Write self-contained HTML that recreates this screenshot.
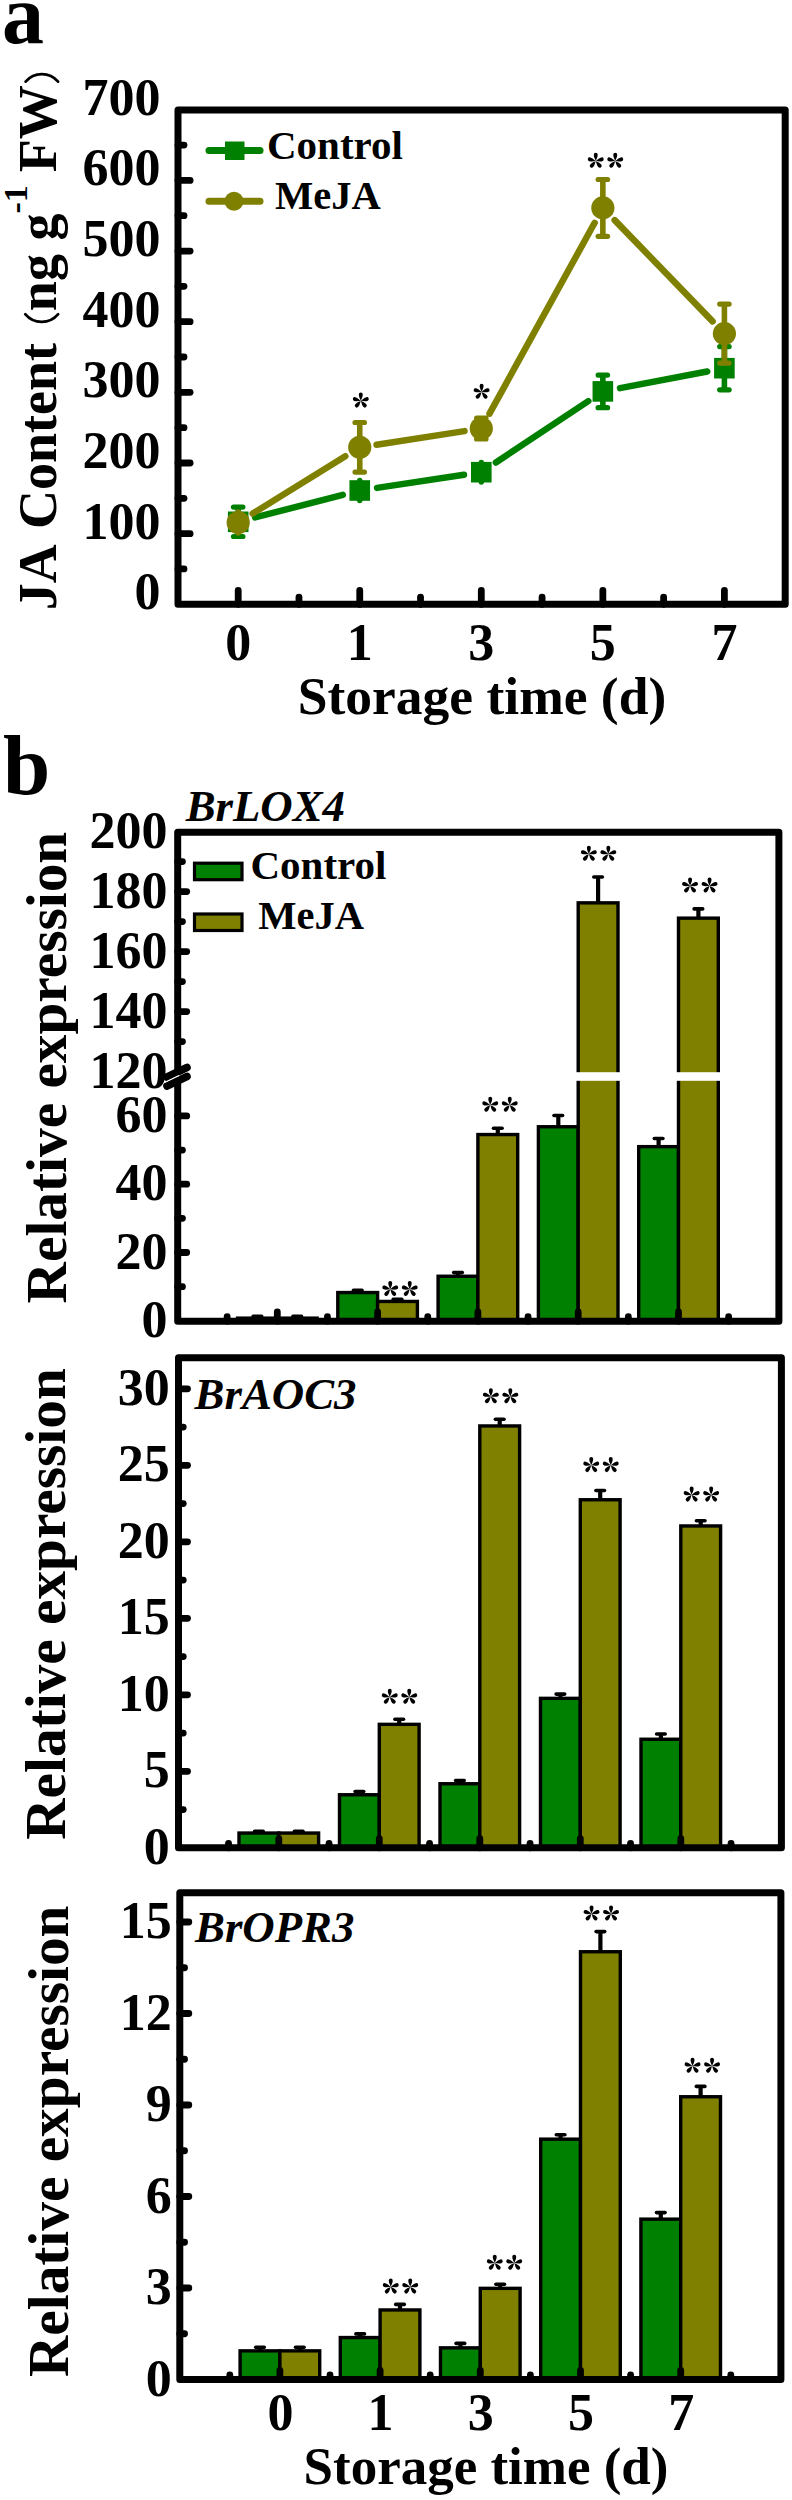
<!DOCTYPE html>
<html><head><meta charset="utf-8"><style>
html,body{margin:0;padding:0;background:#fff;}
svg{display:block;}
text{font-family:"Liberation Serif",serif;fill:#000;}
</style></head><body>
<svg width="792" height="2500" viewBox="0 0 792 2500">
<defs><g id="st0">
<path id="pt" d="M0 0C-0.5 -1.8 -2.05 -3.6 -2.05 -6.5A2.05 2.05 0 0 1 2.05 -6.5C2.05 -3.6 0.5 -1.8 0 0Z"/>
<use href="#pt" transform="rotate(74)"/><use href="#pt" transform="rotate(-74)"/>
<use href="#pt" transform="rotate(140)"/><use href="#pt" transform="rotate(-140)"/>
</g><g id="st"><use href="#st0" transform="translate(0,0.6) scale(0.96)"/></g></defs>
<rect width="792" height="2500" fill="#fff"/>
<text x="2.00" y="43.00" font-size="84" text-anchor="start" font-weight="bold" font-style="normal" >a</text>
<text x="160.50" y="609.30" font-size="52" text-anchor="end" font-weight="bold" font-style="normal" >0</text>
<line x1="178.00" y1="568.97" x2="184.00" y2="568.97" stroke="#000" stroke-width="6.8" stroke-linecap="round"/>
<line x1="178.00" y1="533.65" x2="190.10" y2="533.65" stroke="#000" stroke-width="6.8" stroke-linecap="round"/>
<text x="160.50" y="538.65" font-size="52" text-anchor="end" font-weight="bold" font-style="normal" >100</text>
<line x1="178.00" y1="498.32" x2="184.00" y2="498.32" stroke="#000" stroke-width="6.8" stroke-linecap="round"/>
<line x1="178.00" y1="463.00" x2="190.10" y2="463.00" stroke="#000" stroke-width="6.8" stroke-linecap="round"/>
<text x="160.50" y="468.00" font-size="52" text-anchor="end" font-weight="bold" font-style="normal" >200</text>
<line x1="178.00" y1="427.67" x2="184.00" y2="427.67" stroke="#000" stroke-width="6.8" stroke-linecap="round"/>
<line x1="178.00" y1="392.35" x2="190.10" y2="392.35" stroke="#000" stroke-width="6.8" stroke-linecap="round"/>
<text x="160.50" y="397.35" font-size="52" text-anchor="end" font-weight="bold" font-style="normal" >300</text>
<line x1="178.00" y1="357.02" x2="184.00" y2="357.02" stroke="#000" stroke-width="6.8" stroke-linecap="round"/>
<line x1="178.00" y1="321.70" x2="190.10" y2="321.70" stroke="#000" stroke-width="6.8" stroke-linecap="round"/>
<text x="160.50" y="326.70" font-size="52" text-anchor="end" font-weight="bold" font-style="normal" >400</text>
<line x1="178.00" y1="286.37" x2="184.00" y2="286.37" stroke="#000" stroke-width="6.8" stroke-linecap="round"/>
<line x1="178.00" y1="251.05" x2="190.10" y2="251.05" stroke="#000" stroke-width="6.8" stroke-linecap="round"/>
<text x="160.50" y="256.05" font-size="52" text-anchor="end" font-weight="bold" font-style="normal" >500</text>
<line x1="178.00" y1="215.72" x2="184.00" y2="215.72" stroke="#000" stroke-width="6.8" stroke-linecap="round"/>
<line x1="178.00" y1="180.40" x2="190.10" y2="180.40" stroke="#000" stroke-width="6.8" stroke-linecap="round"/>
<text x="160.50" y="185.40" font-size="52" text-anchor="end" font-weight="bold" font-style="normal" >600</text>
<line x1="178.00" y1="145.07" x2="184.00" y2="145.07" stroke="#000" stroke-width="6.8" stroke-linecap="round"/>
<text x="160.50" y="114.75" font-size="52" text-anchor="end" font-weight="bold" font-style="normal" >700</text>
<line x1="238.20" y1="604.30" x2="238.20" y2="590.50" stroke="#000" stroke-width="6.8" stroke-linecap="round"/>
<line x1="359.75" y1="604.30" x2="359.75" y2="590.50" stroke="#000" stroke-width="6.8" stroke-linecap="round"/>
<line x1="481.30" y1="604.30" x2="481.30" y2="590.50" stroke="#000" stroke-width="6.8" stroke-linecap="round"/>
<line x1="602.85" y1="604.30" x2="602.85" y2="590.50" stroke="#000" stroke-width="6.8" stroke-linecap="round"/>
<line x1="724.40" y1="604.30" x2="724.40" y2="590.50" stroke="#000" stroke-width="6.8" stroke-linecap="round"/>
<line x1="298.97" y1="604.30" x2="298.97" y2="597.20" stroke="#000" stroke-width="6.8" stroke-linecap="round"/>
<line x1="420.52" y1="604.30" x2="420.52" y2="597.20" stroke="#000" stroke-width="6.8" stroke-linecap="round"/>
<line x1="542.08" y1="604.30" x2="542.08" y2="597.20" stroke="#000" stroke-width="6.8" stroke-linecap="round"/>
<line x1="663.62" y1="604.30" x2="663.62" y2="597.20" stroke="#000" stroke-width="6.8" stroke-linecap="round"/>
<rect x="178" y="110" width="607.2" height="494.29999999999995" fill="none" stroke="#000" stroke-width="7" stroke-linejoin="round"/>
<text x="238.20" y="659.50" font-size="52" text-anchor="middle" font-weight="bold" font-style="normal" >0</text>
<text x="359.75" y="659.50" font-size="52" text-anchor="middle" font-weight="bold" font-style="normal" >1</text>
<text x="481.30" y="659.50" font-size="52" text-anchor="middle" font-weight="bold" font-style="normal" >3</text>
<text x="602.85" y="659.50" font-size="52" text-anchor="middle" font-weight="bold" font-style="normal" >5</text>
<text x="724.40" y="659.50" font-size="52" text-anchor="middle" font-weight="bold" font-style="normal" >7</text>
<text x="482.00" y="713.50" font-size="53.5" text-anchor="middle" font-weight="bold" font-style="normal" >Storage time (d)</text>
<g transform="translate(55.5,0) rotate(-90)" font-size="54" font-weight="bold"><text x="-610.2" y="0">JA</text><text x="-529" y="0">Content</text><text x="-311.15" y="0">ng g</text><text x="-213.55" y="-28.7" font-size="34">-1</text><text x="-172.3" y="0">FW</text></g>
<path d="M25.2 314.2A21.5 21.5 0 0 0 58.2 314.2" fill="none" stroke="#000" stroke-width="2.7" stroke-linecap="round"/>
<path d="M25.6 81.6A21.4 21.4 0 0 1 58.1 81.6" fill="none" stroke="#000" stroke-width="2.7" stroke-linecap="round"/>
<line x1="255.15" y1="517.44" x2="342.80" y2="494.86" stroke="#008000" stroke-width="6.5" stroke-linecap="round"/>
<line x1="377.05" y1="487.89" x2="464.00" y2="474.81" stroke="#008000" stroke-width="6.5" stroke-linecap="round"/>
<line x1="495.87" y1="462.51" x2="588.28" y2="401.09" stroke="#008000" stroke-width="6.5" stroke-linecap="round"/>
<line x1="620.04" y1="388.12" x2="707.21" y2="371.48" stroke="#008000" stroke-width="6.5" stroke-linecap="round"/>
<line x1="238.20" y1="507.10" x2="238.20" y2="536.50" stroke="#008000" stroke-width="5.6" stroke-linecap="butt"/>
<line x1="233.50" y1="507.10" x2="242.90" y2="507.10" stroke="#008000" stroke-width="5.2" stroke-linecap="round"/>
<line x1="233.50" y1="536.50" x2="242.90" y2="536.50" stroke="#008000" stroke-width="5.2" stroke-linecap="round"/>
<rect x="227.90" y="511.50" width="20.6" height="20.6" fill="#008000"/>
<line x1="359.75" y1="480.50" x2="359.75" y2="500.50" stroke="#008000" stroke-width="5.4" stroke-linecap="round"/>
<rect x="349.45" y="480.20" width="20.6" height="20.6" fill="#008000"/>
<line x1="481.30" y1="462.40" x2="481.30" y2="482.00" stroke="#008000" stroke-width="5.4" stroke-linecap="round"/>
<rect x="471.00" y="461.90" width="20.6" height="20.6" fill="#008000"/>
<line x1="602.85" y1="375.10" x2="602.85" y2="407.70" stroke="#008000" stroke-width="5.6" stroke-linecap="butt"/>
<line x1="598.15" y1="375.10" x2="607.55" y2="375.10" stroke="#008000" stroke-width="5.2" stroke-linecap="round"/>
<line x1="598.15" y1="407.70" x2="607.55" y2="407.70" stroke="#008000" stroke-width="5.2" stroke-linecap="round"/>
<rect x="592.55" y="381.10" width="20.6" height="20.6" fill="#008000"/>
<line x1="724.40" y1="346.60" x2="724.40" y2="389.80" stroke="#008000" stroke-width="5.6" stroke-linecap="butt"/>
<line x1="719.70" y1="346.60" x2="729.10" y2="346.60" stroke="#008000" stroke-width="5.2" stroke-linecap="round"/>
<line x1="719.70" y1="389.80" x2="729.10" y2="389.80" stroke="#008000" stroke-width="5.2" stroke-linecap="round"/>
<rect x="714.10" y="357.90" width="20.6" height="20.6" fill="#008000"/>
<line x1="252.66" y1="513.56" x2="345.29" y2="456.24" stroke="#808000" stroke-width="6.5" stroke-linecap="round"/>
<line x1="376.55" y1="444.70" x2="464.50" y2="431.10" stroke="#808000" stroke-width="6.5" stroke-linecap="round"/>
<line x1="489.50" y1="413.61" x2="594.65" y2="222.79" stroke="#808000" stroke-width="6.5" stroke-linecap="round"/>
<line x1="614.67" y1="220.12" x2="712.58" y2="321.38" stroke="#808000" stroke-width="6.5" stroke-linecap="round"/>
<line x1="238.20" y1="512.00" x2="238.20" y2="533.00" stroke="#808000" stroke-width="5.4" stroke-linecap="round"/>
<circle cx="238.20" cy="522.50" r="11.6" fill="#808000"/>
<line x1="359.75" y1="422.50" x2="359.75" y2="472.10" stroke="#808000" stroke-width="5.6" stroke-linecap="butt"/>
<line x1="355.05" y1="422.50" x2="364.45" y2="422.50" stroke="#808000" stroke-width="5.2" stroke-linecap="round"/>
<line x1="355.05" y1="472.10" x2="364.45" y2="472.10" stroke="#808000" stroke-width="5.2" stroke-linecap="round"/>
<circle cx="359.75" cy="447.30" r="11.6" fill="#808000"/>
<line x1="481.30" y1="418.00" x2="481.30" y2="439.00" stroke="#808000" stroke-width="5.6" stroke-linecap="butt"/>
<line x1="476.60" y1="418.00" x2="486.00" y2="418.00" stroke="#808000" stroke-width="5.2" stroke-linecap="round"/>
<line x1="476.60" y1="439.00" x2="486.00" y2="439.00" stroke="#808000" stroke-width="5.2" stroke-linecap="round"/>
<circle cx="481.30" cy="428.50" r="11.6" fill="#808000"/>
<line x1="602.85" y1="179.50" x2="602.85" y2="236.30" stroke="#808000" stroke-width="5.6" stroke-linecap="butt"/>
<line x1="598.15" y1="179.50" x2="607.55" y2="179.50" stroke="#808000" stroke-width="5.2" stroke-linecap="round"/>
<line x1="598.15" y1="236.30" x2="607.55" y2="236.30" stroke="#808000" stroke-width="5.2" stroke-linecap="round"/>
<circle cx="602.85" cy="207.90" r="11.6" fill="#808000"/>
<line x1="724.40" y1="304.10" x2="724.40" y2="363.10" stroke="#808000" stroke-width="5.6" stroke-linecap="butt"/>
<line x1="719.70" y1="304.10" x2="729.10" y2="304.10" stroke="#808000" stroke-width="5.2" stroke-linecap="round"/>
<line x1="719.70" y1="363.10" x2="729.10" y2="363.10" stroke="#808000" stroke-width="5.2" stroke-linecap="round"/>
<circle cx="724.40" cy="333.60" r="11.6" fill="#808000"/>
<use href="#st" x="360.80" y="400.20"/>
<use href="#st" x="481.60" y="391.30"/>
<use href="#st" x="595.75" y="160.40"/>
<use href="#st" x="615.25" y="160.40"/>
<line x1="209.00" y1="150.50" x2="260.00" y2="150.50" stroke="#008000" stroke-width="7" stroke-linecap="round"/>
<rect x="225" y="141.5" width="19.5" height="18.5" fill="#008000"/>
<line x1="209.00" y1="201.30" x2="260.00" y2="201.30" stroke="#808000" stroke-width="7" stroke-linecap="round"/>
<circle cx="234" cy="201.3" r="9.5" fill="#808000"/>
<text x="267.00" y="158.60" font-size="41" text-anchor="start" font-weight="bold" font-style="normal" >Control</text>
<text x="275.00" y="209.40" font-size="40.5" text-anchor="start" font-weight="bold" font-style="normal" >MeJA</text>
<text x="3.00" y="794.00" font-size="85" text-anchor="start" font-weight="bold" font-style="normal" >b</text>
<line x1="177.70" y1="1286.65" x2="182.45" y2="1286.65" stroke="#000" stroke-width="6.8" stroke-linecap="round"/>
<line x1="177.70" y1="1218.35" x2="182.45" y2="1218.35" stroke="#000" stroke-width="6.8" stroke-linecap="round"/>
<line x1="177.70" y1="1150.05" x2="182.45" y2="1150.05" stroke="#000" stroke-width="6.8" stroke-linecap="round"/>
<line x1="177.70" y1="1041.60" x2="182.45" y2="1041.60" stroke="#000" stroke-width="6.8" stroke-linecap="round"/>
<line x1="177.70" y1="981.60" x2="182.45" y2="981.60" stroke="#000" stroke-width="6.8" stroke-linecap="round"/>
<line x1="177.70" y1="921.60" x2="182.45" y2="921.60" stroke="#000" stroke-width="6.8" stroke-linecap="round"/>
<line x1="177.70" y1="861.60" x2="182.45" y2="861.60" stroke="#000" stroke-width="6.8" stroke-linecap="round"/>
<line x1="177.70" y1="1252.50" x2="186.70" y2="1252.50" stroke="#000" stroke-width="6.8" stroke-linecap="round"/>
<line x1="177.70" y1="1184.20" x2="186.70" y2="1184.20" stroke="#000" stroke-width="6.8" stroke-linecap="round"/>
<line x1="177.70" y1="1115.90" x2="186.70" y2="1115.90" stroke="#000" stroke-width="6.8" stroke-linecap="round"/>
<line x1="177.70" y1="1011.60" x2="186.70" y2="1011.60" stroke="#000" stroke-width="6.8" stroke-linecap="round"/>
<line x1="177.70" y1="951.60" x2="186.70" y2="951.60" stroke="#000" stroke-width="6.8" stroke-linecap="round"/>
<line x1="177.70" y1="891.60" x2="186.70" y2="891.60" stroke="#000" stroke-width="6.8" stroke-linecap="round"/>
<text x="167.60" y="1336.90" font-size="52" text-anchor="end" font-weight="bold" font-style="normal" >0</text>
<text x="167.60" y="1268.60" font-size="52" text-anchor="end" font-weight="bold" font-style="normal" >20</text>
<text x="167.60" y="1200.30" font-size="52" text-anchor="end" font-weight="bold" font-style="normal" >40</text>
<text x="167.60" y="1132.00" font-size="52" text-anchor="end" font-weight="bold" font-style="normal" >60</text>
<text x="167.60" y="1087.70" font-size="52" text-anchor="end" font-weight="bold" font-style="normal" >120</text>
<text x="167.60" y="1027.70" font-size="52" text-anchor="end" font-weight="bold" font-style="normal" >140</text>
<text x="167.60" y="967.70" font-size="52" text-anchor="end" font-weight="bold" font-style="normal" >160</text>
<text x="167.60" y="907.70" font-size="52" text-anchor="end" font-weight="bold" font-style="normal" >180</text>
<text x="167.60" y="847.70" font-size="52" text-anchor="end" font-weight="bold" font-style="normal" >200</text>
<line x1="253.10" y1="1316.40" x2="261.70" y2="1316.40" stroke="#000" stroke-width="3.6" stroke-linecap="round"/>
<rect x="237.50" y="1318.15" width="39.8" height="3.05" fill="#008000" stroke="#000" stroke-width="3.4"/>
<line x1="292.90" y1="1316.40" x2="301.50" y2="1316.40" stroke="#000" stroke-width="3.6" stroke-linecap="round"/>
<rect x="277.30" y="1318.15" width="39.8" height="3.05" fill="#808000" stroke="#000" stroke-width="3.4"/>
<line x1="353.40" y1="1290.40" x2="362.00" y2="1290.40" stroke="#000" stroke-width="3.6" stroke-linecap="round"/>
<rect x="337.80" y="1292.55" width="39.8" height="28.65" fill="#008000" stroke="#000" stroke-width="3.4"/>
<line x1="393.20" y1="1299.30" x2="401.80" y2="1299.30" stroke="#000" stroke-width="3.6" stroke-linecap="round"/>
<rect x="377.60" y="1301.45" width="39.8" height="19.75" fill="#808000" stroke="#000" stroke-width="3.4"/>
<line x1="458.00" y1="1276.25" x2="458.00" y2="1272.60" stroke="#000" stroke-width="4.2" stroke-linecap="butt"/>
<line x1="453.70" y1="1272.60" x2="462.30" y2="1272.60" stroke="#000" stroke-width="3.6" stroke-linecap="round"/>
<rect x="438.10" y="1276.25" width="39.8" height="44.95" fill="#008000" stroke="#000" stroke-width="3.4"/>
<line x1="497.80" y1="1134.55" x2="497.80" y2="1128.30" stroke="#000" stroke-width="4.2" stroke-linecap="butt"/>
<line x1="493.50" y1="1128.30" x2="502.10" y2="1128.30" stroke="#000" stroke-width="3.6" stroke-linecap="round"/>
<rect x="477.90" y="1134.55" width="39.8" height="186.65" fill="#808000" stroke="#000" stroke-width="3.4"/>
<line x1="558.30" y1="1126.75" x2="558.30" y2="1115.50" stroke="#000" stroke-width="4.2" stroke-linecap="butt"/>
<line x1="554.00" y1="1115.50" x2="562.60" y2="1115.50" stroke="#000" stroke-width="3.6" stroke-linecap="round"/>
<rect x="538.40" y="1126.75" width="39.8" height="194.45" fill="#008000" stroke="#000" stroke-width="3.4"/>
<line x1="598.10" y1="902.85" x2="598.10" y2="877.00" stroke="#000" stroke-width="4.2" stroke-linecap="butt"/>
<line x1="593.80" y1="877.00" x2="602.40" y2="877.00" stroke="#000" stroke-width="3.6" stroke-linecap="round"/>
<rect x="578.20" y="902.85" width="39.8" height="418.35" fill="#808000" stroke="#000" stroke-width="3.4"/>
<line x1="658.60" y1="1146.65" x2="658.60" y2="1138.50" stroke="#000" stroke-width="4.2" stroke-linecap="butt"/>
<line x1="654.30" y1="1138.50" x2="662.90" y2="1138.50" stroke="#000" stroke-width="3.6" stroke-linecap="round"/>
<rect x="638.70" y="1146.65" width="39.8" height="174.55" fill="#008000" stroke="#000" stroke-width="3.4"/>
<line x1="698.40" y1="918.15" x2="698.40" y2="908.90" stroke="#000" stroke-width="4.2" stroke-linecap="butt"/>
<line x1="694.10" y1="908.90" x2="702.70" y2="908.90" stroke="#000" stroke-width="3.6" stroke-linecap="round"/>
<rect x="678.50" y="918.15" width="39.8" height="403.05" fill="#808000" stroke="#000" stroke-width="3.4"/>
<rect x="560" y="1072.2" width="170" height="8.6" fill="#fff"/>
<line x1="277.30" y1="1321.20" x2="277.30" y2="1312.00" stroke="#000" stroke-width="6.8" stroke-linecap="round"/>
<line x1="377.60" y1="1321.20" x2="377.60" y2="1312.00" stroke="#000" stroke-width="6.8" stroke-linecap="round"/>
<line x1="477.90" y1="1321.20" x2="477.90" y2="1312.00" stroke="#000" stroke-width="6.8" stroke-linecap="round"/>
<line x1="578.20" y1="1321.20" x2="578.20" y2="1312.00" stroke="#000" stroke-width="6.8" stroke-linecap="round"/>
<line x1="678.50" y1="1321.20" x2="678.50" y2="1312.00" stroke="#000" stroke-width="6.8" stroke-linecap="round"/>
<line x1="227.15" y1="1321.20" x2="227.15" y2="1316.70" stroke="#000" stroke-width="6.8" stroke-linecap="round"/>
<line x1="327.45" y1="1321.20" x2="327.45" y2="1316.70" stroke="#000" stroke-width="6.8" stroke-linecap="round"/>
<line x1="427.75" y1="1321.20" x2="427.75" y2="1316.70" stroke="#000" stroke-width="6.8" stroke-linecap="round"/>
<line x1="528.05" y1="1321.20" x2="528.05" y2="1316.70" stroke="#000" stroke-width="6.8" stroke-linecap="round"/>
<line x1="628.35" y1="1321.20" x2="628.35" y2="1316.70" stroke="#000" stroke-width="6.8" stroke-linecap="round"/>
<line x1="728.65" y1="1321.20" x2="728.65" y2="1316.70" stroke="#000" stroke-width="6.8" stroke-linecap="round"/>
<rect x="177.7" y="832.2" width="601.20" height="489.00" fill="none" stroke="#000" stroke-width="7" stroke-linejoin="round"/>
<text x="185.70" y="820.50" font-size="44.8" text-anchor="start" font-weight="bold" font-style="italic" >BrLOX4</text>
<use href="#st" x="390.25" y="1288.60"/>
<use href="#st" x="409.75" y="1288.60"/>
<use href="#st" x="490.25" y="1104.40"/>
<use href="#st" x="509.75" y="1104.40"/>
<use href="#st" x="588.85" y="853.30"/>
<use href="#st" x="608.35" y="853.30"/>
<use href="#st" x="690.05" y="885.10"/>
<use href="#st" x="709.55" y="885.10"/>
<rect x="173" y="1072.6" width="9.5" height="8.2" fill="#fff"/>
<line x1="167.00" y1="1077.00" x2="187.00" y2="1067.50" stroke="#000" stroke-width="7.6" stroke-linecap="round"/>
<line x1="167.00" y1="1086.00" x2="187.00" y2="1076.50" stroke="#000" stroke-width="7.6" stroke-linecap="round"/>
<line x1="165.00" y1="1082.20" x2="179.00" y2="1075.60" stroke="#fff" stroke-width="1.1" stroke-linecap="butt"/>
<rect x="194.5" y="863.2" width="47.5" height="16.5" fill="#008000" stroke="#000" stroke-width="3.2"/>
<rect x="194.5" y="914" width="47.5" height="16.5" fill="#808000" stroke="#000" stroke-width="3.2"/>
<text x="250.50" y="878.80" font-size="41" text-anchor="start" font-weight="bold" font-style="normal" >Control</text>
<text x="258.30" y="928.90" font-size="40.5" text-anchor="start" font-weight="bold" font-style="normal" >MeJA</text>
<line x1="178.50" y1="1809.55" x2="183.25" y2="1809.55" stroke="#000" stroke-width="6.8" stroke-linecap="round"/>
<line x1="178.50" y1="1733.05" x2="183.25" y2="1733.05" stroke="#000" stroke-width="6.8" stroke-linecap="round"/>
<line x1="178.50" y1="1656.55" x2="183.25" y2="1656.55" stroke="#000" stroke-width="6.8" stroke-linecap="round"/>
<line x1="178.50" y1="1580.05" x2="183.25" y2="1580.05" stroke="#000" stroke-width="6.8" stroke-linecap="round"/>
<line x1="178.50" y1="1503.55" x2="183.25" y2="1503.55" stroke="#000" stroke-width="6.8" stroke-linecap="round"/>
<line x1="178.50" y1="1427.05" x2="183.25" y2="1427.05" stroke="#000" stroke-width="6.8" stroke-linecap="round"/>
<line x1="178.50" y1="1771.30" x2="187.50" y2="1771.30" stroke="#000" stroke-width="6.8" stroke-linecap="round"/>
<line x1="178.50" y1="1694.80" x2="187.50" y2="1694.80" stroke="#000" stroke-width="6.8" stroke-linecap="round"/>
<line x1="178.50" y1="1618.30" x2="187.50" y2="1618.30" stroke="#000" stroke-width="6.8" stroke-linecap="round"/>
<line x1="178.50" y1="1541.80" x2="187.50" y2="1541.80" stroke="#000" stroke-width="6.8" stroke-linecap="round"/>
<line x1="178.50" y1="1465.30" x2="187.50" y2="1465.30" stroke="#000" stroke-width="6.8" stroke-linecap="round"/>
<line x1="178.50" y1="1388.80" x2="187.50" y2="1388.80" stroke="#000" stroke-width="6.8" stroke-linecap="round"/>
<text x="169.80" y="1863.90" font-size="52" text-anchor="end" font-weight="bold" font-style="normal" >0</text>
<text x="169.80" y="1787.40" font-size="52" text-anchor="end" font-weight="bold" font-style="normal" >5</text>
<text x="169.80" y="1710.90" font-size="52" text-anchor="end" font-weight="bold" font-style="normal" >10</text>
<text x="169.80" y="1634.40" font-size="52" text-anchor="end" font-weight="bold" font-style="normal" >15</text>
<text x="169.80" y="1557.90" font-size="52" text-anchor="end" font-weight="bold" font-style="normal" >20</text>
<text x="169.80" y="1481.40" font-size="52" text-anchor="end" font-weight="bold" font-style="normal" >25</text>
<text x="169.80" y="1404.90" font-size="52" text-anchor="end" font-weight="bold" font-style="normal" >30</text>
<line x1="254.60" y1="1831.20" x2="263.20" y2="1831.20" stroke="#000" stroke-width="3.6" stroke-linecap="round"/>
<rect x="239.00" y="1833.05" width="39.8" height="14.75" fill="#008000" stroke="#000" stroke-width="3.4"/>
<line x1="294.40" y1="1831.20" x2="303.00" y2="1831.20" stroke="#000" stroke-width="3.6" stroke-linecap="round"/>
<rect x="278.80" y="1833.05" width="39.8" height="14.75" fill="#808000" stroke="#000" stroke-width="3.4"/>
<line x1="359.40" y1="1794.75" x2="359.40" y2="1791.50" stroke="#000" stroke-width="4.2" stroke-linecap="butt"/>
<line x1="355.10" y1="1791.50" x2="363.70" y2="1791.50" stroke="#000" stroke-width="3.6" stroke-linecap="round"/>
<rect x="339.50" y="1794.75" width="39.8" height="53.05" fill="#008000" stroke="#000" stroke-width="3.4"/>
<line x1="399.20" y1="1724.35" x2="399.20" y2="1719.20" stroke="#000" stroke-width="4.2" stroke-linecap="butt"/>
<line x1="394.90" y1="1719.20" x2="403.50" y2="1719.20" stroke="#000" stroke-width="3.6" stroke-linecap="round"/>
<rect x="379.30" y="1724.35" width="39.8" height="123.45" fill="#808000" stroke="#000" stroke-width="3.4"/>
<line x1="459.90" y1="1783.75" x2="459.90" y2="1780.50" stroke="#000" stroke-width="4.2" stroke-linecap="butt"/>
<line x1="455.60" y1="1780.50" x2="464.20" y2="1780.50" stroke="#000" stroke-width="3.6" stroke-linecap="round"/>
<rect x="440.00" y="1783.75" width="39.8" height="64.05" fill="#008000" stroke="#000" stroke-width="3.4"/>
<line x1="499.70" y1="1425.95" x2="499.70" y2="1419.20" stroke="#000" stroke-width="4.2" stroke-linecap="butt"/>
<line x1="495.40" y1="1419.20" x2="504.00" y2="1419.20" stroke="#000" stroke-width="3.6" stroke-linecap="round"/>
<rect x="479.80" y="1425.95" width="39.8" height="421.85" fill="#808000" stroke="#000" stroke-width="3.4"/>
<line x1="560.40" y1="1698.35" x2="560.40" y2="1694.10" stroke="#000" stroke-width="4.2" stroke-linecap="butt"/>
<line x1="556.10" y1="1694.10" x2="564.70" y2="1694.10" stroke="#000" stroke-width="3.6" stroke-linecap="round"/>
<rect x="540.50" y="1698.35" width="39.8" height="149.45" fill="#008000" stroke="#000" stroke-width="3.4"/>
<line x1="600.20" y1="1499.75" x2="600.20" y2="1490.50" stroke="#000" stroke-width="4.2" stroke-linecap="butt"/>
<line x1="595.90" y1="1490.50" x2="604.50" y2="1490.50" stroke="#000" stroke-width="3.6" stroke-linecap="round"/>
<rect x="580.30" y="1499.75" width="39.8" height="348.05" fill="#808000" stroke="#000" stroke-width="3.4"/>
<line x1="660.90" y1="1739.25" x2="660.90" y2="1734.00" stroke="#000" stroke-width="4.2" stroke-linecap="butt"/>
<line x1="656.60" y1="1734.00" x2="665.20" y2="1734.00" stroke="#000" stroke-width="3.6" stroke-linecap="round"/>
<rect x="641.00" y="1739.25" width="39.8" height="108.55" fill="#008000" stroke="#000" stroke-width="3.4"/>
<line x1="700.70" y1="1525.95" x2="700.70" y2="1520.80" stroke="#000" stroke-width="4.2" stroke-linecap="butt"/>
<line x1="696.40" y1="1520.80" x2="705.00" y2="1520.80" stroke="#000" stroke-width="3.6" stroke-linecap="round"/>
<rect x="680.80" y="1525.95" width="39.8" height="321.85" fill="#808000" stroke="#000" stroke-width="3.4"/>
<line x1="278.80" y1="1847.80" x2="278.80" y2="1838.60" stroke="#000" stroke-width="6.8" stroke-linecap="round"/>
<line x1="379.30" y1="1847.80" x2="379.30" y2="1838.60" stroke="#000" stroke-width="6.8" stroke-linecap="round"/>
<line x1="479.80" y1="1847.80" x2="479.80" y2="1838.60" stroke="#000" stroke-width="6.8" stroke-linecap="round"/>
<line x1="580.30" y1="1847.80" x2="580.30" y2="1838.60" stroke="#000" stroke-width="6.8" stroke-linecap="round"/>
<line x1="680.80" y1="1847.80" x2="680.80" y2="1838.60" stroke="#000" stroke-width="6.8" stroke-linecap="round"/>
<line x1="228.55" y1="1847.80" x2="228.55" y2="1843.30" stroke="#000" stroke-width="6.8" stroke-linecap="round"/>
<line x1="329.05" y1="1847.80" x2="329.05" y2="1843.30" stroke="#000" stroke-width="6.8" stroke-linecap="round"/>
<line x1="429.55" y1="1847.80" x2="429.55" y2="1843.30" stroke="#000" stroke-width="6.8" stroke-linecap="round"/>
<line x1="530.05" y1="1847.80" x2="530.05" y2="1843.30" stroke="#000" stroke-width="6.8" stroke-linecap="round"/>
<line x1="630.55" y1="1847.80" x2="630.55" y2="1843.30" stroke="#000" stroke-width="6.8" stroke-linecap="round"/>
<line x1="731.05" y1="1847.80" x2="731.05" y2="1843.30" stroke="#000" stroke-width="6.8" stroke-linecap="round"/>
<rect x="178.5" y="1357.8" width="602.90" height="490.00" fill="none" stroke="#000" stroke-width="7" stroke-linejoin="round"/>
<text x="194.60" y="1409.10" font-size="44.8" text-anchor="start" font-weight="bold" font-style="italic" >BrAOC3</text>
<use href="#st" x="389.75" y="1696.40"/>
<use href="#st" x="409.25" y="1696.40"/>
<use href="#st" x="490.85" y="1395.80"/>
<use href="#st" x="510.35" y="1395.80"/>
<use href="#st" x="591.25" y="1464.70"/>
<use href="#st" x="610.75" y="1464.70"/>
<use href="#st" x="691.65" y="1494.20"/>
<use href="#st" x="711.15" y="1494.20"/>
<line x1="179.80" y1="2333.75" x2="184.55" y2="2333.75" stroke="#000" stroke-width="6.8" stroke-linecap="round"/>
<line x1="179.80" y1="2242.25" x2="184.55" y2="2242.25" stroke="#000" stroke-width="6.8" stroke-linecap="round"/>
<line x1="179.80" y1="2150.75" x2="184.55" y2="2150.75" stroke="#000" stroke-width="6.8" stroke-linecap="round"/>
<line x1="179.80" y1="2059.25" x2="184.55" y2="2059.25" stroke="#000" stroke-width="6.8" stroke-linecap="round"/>
<line x1="179.80" y1="1967.75" x2="184.55" y2="1967.75" stroke="#000" stroke-width="6.8" stroke-linecap="round"/>
<line x1="179.80" y1="2288.00" x2="188.80" y2="2288.00" stroke="#000" stroke-width="6.8" stroke-linecap="round"/>
<line x1="179.80" y1="2196.50" x2="188.80" y2="2196.50" stroke="#000" stroke-width="6.8" stroke-linecap="round"/>
<line x1="179.80" y1="2105.00" x2="188.80" y2="2105.00" stroke="#000" stroke-width="6.8" stroke-linecap="round"/>
<line x1="179.80" y1="2013.50" x2="188.80" y2="2013.50" stroke="#000" stroke-width="6.8" stroke-linecap="round"/>
<line x1="179.80" y1="1922.00" x2="188.80" y2="1922.00" stroke="#000" stroke-width="6.8" stroke-linecap="round"/>
<text x="171.80" y="2395.60" font-size="52" text-anchor="end" font-weight="bold" font-style="normal" >0</text>
<text x="171.80" y="2304.10" font-size="52" text-anchor="end" font-weight="bold" font-style="normal" >3</text>
<text x="171.80" y="2212.60" font-size="52" text-anchor="end" font-weight="bold" font-style="normal" >6</text>
<text x="171.80" y="2121.10" font-size="52" text-anchor="end" font-weight="bold" font-style="normal" >9</text>
<text x="171.80" y="2029.60" font-size="52" text-anchor="end" font-weight="bold" font-style="normal" >12</text>
<text x="171.80" y="1938.10" font-size="52" text-anchor="end" font-weight="bold" font-style="normal" >15</text>
<line x1="260.00" y1="2350.85" x2="260.00" y2="2347.20" stroke="#000" stroke-width="4.2" stroke-linecap="butt"/>
<line x1="255.70" y1="2347.20" x2="264.30" y2="2347.20" stroke="#000" stroke-width="3.6" stroke-linecap="round"/>
<rect x="240.10" y="2350.85" width="39.8" height="28.65" fill="#008000" stroke="#000" stroke-width="3.4"/>
<line x1="299.80" y1="2350.85" x2="299.80" y2="2347.20" stroke="#000" stroke-width="4.2" stroke-linecap="butt"/>
<line x1="295.50" y1="2347.20" x2="304.10" y2="2347.20" stroke="#000" stroke-width="3.6" stroke-linecap="round"/>
<rect x="279.90" y="2350.85" width="39.8" height="28.65" fill="#808000" stroke="#000" stroke-width="3.4"/>
<line x1="360.20" y1="2337.55" x2="360.20" y2="2333.90" stroke="#000" stroke-width="4.2" stroke-linecap="butt"/>
<line x1="355.90" y1="2333.90" x2="364.50" y2="2333.90" stroke="#000" stroke-width="3.6" stroke-linecap="round"/>
<rect x="340.30" y="2337.55" width="39.8" height="41.95" fill="#008000" stroke="#000" stroke-width="3.4"/>
<line x1="400.00" y1="2309.95" x2="400.00" y2="2304.40" stroke="#000" stroke-width="4.2" stroke-linecap="butt"/>
<line x1="395.70" y1="2304.40" x2="404.30" y2="2304.40" stroke="#000" stroke-width="3.6" stroke-linecap="round"/>
<rect x="380.10" y="2309.95" width="39.8" height="69.55" fill="#808000" stroke="#000" stroke-width="3.4"/>
<line x1="460.40" y1="2347.85" x2="460.40" y2="2343.40" stroke="#000" stroke-width="4.2" stroke-linecap="butt"/>
<line x1="456.10" y1="2343.40" x2="464.70" y2="2343.40" stroke="#000" stroke-width="3.6" stroke-linecap="round"/>
<rect x="440.50" y="2347.85" width="39.8" height="31.65" fill="#008000" stroke="#000" stroke-width="3.4"/>
<line x1="500.20" y1="2288.35" x2="500.20" y2="2284.30" stroke="#000" stroke-width="4.2" stroke-linecap="butt"/>
<line x1="495.90" y1="2284.30" x2="504.50" y2="2284.30" stroke="#000" stroke-width="3.6" stroke-linecap="round"/>
<rect x="480.30" y="2288.35" width="39.8" height="91.15" fill="#808000" stroke="#000" stroke-width="3.4"/>
<line x1="560.60" y1="2139.15" x2="560.60" y2="2134.80" stroke="#000" stroke-width="4.2" stroke-linecap="butt"/>
<line x1="556.30" y1="2134.80" x2="564.90" y2="2134.80" stroke="#000" stroke-width="3.6" stroke-linecap="round"/>
<rect x="540.70" y="2139.15" width="39.8" height="240.35" fill="#008000" stroke="#000" stroke-width="3.4"/>
<line x1="600.40" y1="1951.75" x2="600.40" y2="1931.60" stroke="#000" stroke-width="4.2" stroke-linecap="butt"/>
<line x1="596.10" y1="1931.60" x2="604.70" y2="1931.60" stroke="#000" stroke-width="3.6" stroke-linecap="round"/>
<rect x="580.50" y="1951.75" width="39.8" height="427.75" fill="#808000" stroke="#000" stroke-width="3.4"/>
<line x1="660.80" y1="2219.15" x2="660.80" y2="2212.60" stroke="#000" stroke-width="4.2" stroke-linecap="butt"/>
<line x1="656.50" y1="2212.60" x2="665.10" y2="2212.60" stroke="#000" stroke-width="3.6" stroke-linecap="round"/>
<rect x="640.90" y="2219.15" width="39.8" height="160.35" fill="#008000" stroke="#000" stroke-width="3.4"/>
<line x1="700.60" y1="2096.75" x2="700.60" y2="2086.40" stroke="#000" stroke-width="4.2" stroke-linecap="butt"/>
<line x1="696.30" y1="2086.40" x2="704.90" y2="2086.40" stroke="#000" stroke-width="3.6" stroke-linecap="round"/>
<rect x="680.70" y="2096.75" width="39.8" height="282.75" fill="#808000" stroke="#000" stroke-width="3.4"/>
<line x1="279.90" y1="2379.50" x2="279.90" y2="2370.30" stroke="#000" stroke-width="6.8" stroke-linecap="round"/>
<line x1="380.10" y1="2379.50" x2="380.10" y2="2370.30" stroke="#000" stroke-width="6.8" stroke-linecap="round"/>
<line x1="480.30" y1="2379.50" x2="480.30" y2="2370.30" stroke="#000" stroke-width="6.8" stroke-linecap="round"/>
<line x1="580.50" y1="2379.50" x2="580.50" y2="2370.30" stroke="#000" stroke-width="6.8" stroke-linecap="round"/>
<line x1="680.70" y1="2379.50" x2="680.70" y2="2370.30" stroke="#000" stroke-width="6.8" stroke-linecap="round"/>
<line x1="229.80" y1="2379.50" x2="229.80" y2="2375.00" stroke="#000" stroke-width="6.8" stroke-linecap="round"/>
<line x1="330.00" y1="2379.50" x2="330.00" y2="2375.00" stroke="#000" stroke-width="6.8" stroke-linecap="round"/>
<line x1="430.20" y1="2379.50" x2="430.20" y2="2375.00" stroke="#000" stroke-width="6.8" stroke-linecap="round"/>
<line x1="530.40" y1="2379.50" x2="530.40" y2="2375.00" stroke="#000" stroke-width="6.8" stroke-linecap="round"/>
<line x1="630.60" y1="2379.50" x2="630.60" y2="2375.00" stroke="#000" stroke-width="6.8" stroke-linecap="round"/>
<line x1="730.80" y1="2379.50" x2="730.80" y2="2375.00" stroke="#000" stroke-width="6.8" stroke-linecap="round"/>
<rect x="179.8" y="1892.8" width="601.10" height="486.70" fill="none" stroke="#000" stroke-width="7" stroke-linejoin="round"/>
<text x="195.00" y="1942.00" font-size="44.8" text-anchor="start" font-weight="bold" font-style="italic" >BrOPR3</text>
<use href="#st" x="390.75" y="2286.20"/>
<use href="#st" x="410.25" y="2286.20"/>
<use href="#st" x="494.75" y="2262.40"/>
<use href="#st" x="514.25" y="2262.40"/>
<use href="#st" x="591.55" y="1913.10"/>
<use href="#st" x="611.05" y="1913.10"/>
<use href="#st" x="692.55" y="2065.40"/>
<use href="#st" x="712.05" y="2065.40"/>
<text x="280.40" y="2430.00" font-size="52" text-anchor="middle" font-weight="bold" font-style="normal" >0</text>
<text x="380.60" y="2430.00" font-size="52" text-anchor="middle" font-weight="bold" font-style="normal" >1</text>
<text x="480.80" y="2430.00" font-size="52" text-anchor="middle" font-weight="bold" font-style="normal" >3</text>
<text x="581.00" y="2430.00" font-size="52" text-anchor="middle" font-weight="bold" font-style="normal" >5</text>
<text x="681.20" y="2430.00" font-size="52" text-anchor="middle" font-weight="bold" font-style="normal" >7</text>
<text x="486.00" y="2484.40" font-size="53" text-anchor="middle" font-weight="bold" font-style="normal" >Storage time (d)</text>
<text transform="translate(66.2,1067.6) rotate(-90)" font-size="57.3" font-weight="bold" text-anchor="middle">Relative expression</text>
<text transform="translate(64.9,1604) rotate(-90)" font-size="57.3" font-weight="bold" text-anchor="middle">Relative expression</text>
<text transform="translate(68.4,2141.3) rotate(-90)" font-size="57.3" font-weight="bold" text-anchor="middle">Relative expression</text>
</svg></body></html>
